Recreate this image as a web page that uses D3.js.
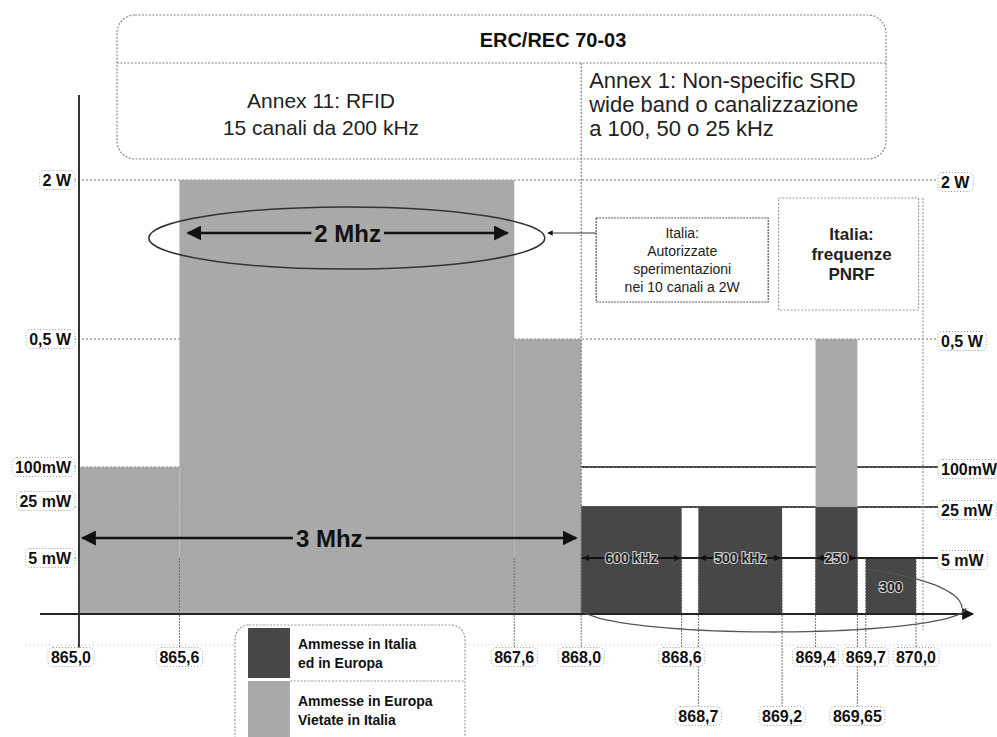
<!DOCTYPE html>
<html><head><meta charset="utf-8">
<script src="https://cdn.jsdelivr.net/npm/d3@7/dist/d3.min.js"></script>
<style>
html,body{margin:0;padding:0;background:#fff;}
svg{display:block;font-family:"Liberation Sans",Arial,sans-serif;}
</style></head>
<body>
<svg id="chart" width="997" height="737"></svg>
<script>
// ---------- DATA ----------
const europeFrom  = [865.0, 865.6, 867.6, 869.4];
const europeTo    = [865.6, 867.6, 868.0, 869.65];
const europePower = [100, 2000, 500, 500];          // mW
const italyFrom   = [868.0, 868.7, 869.4, 869.7];
const italyTo     = [868.6, 869.2, 869.65, 870.0];
const italyPower  = [25, 25, 25, 5];                // mW
const italyLabels = ["600 kHz", "500 kHz", "250", "300"];
const powerTicks  = [2000, 500, 100, 25, 5];
const powerLabels = ["2 W", "0,5 W", "100mW", "25 mW", "5 mW"];
const freqTicks   = [865.0, 865.6, 867.6, 868.0, 868.6, 868.7, 869.2, 869.4, 869.65, 869.7, 870.0];
const freqLabels  = ["865,0", "865,6", "867,6", "868,0", "868,6", "868,7", "869,2", "869,4", "869,65", "869,7", "870,0"];
const freqRow     = [0, 0, 0, 0, 0, 1, 1, 0, 1, 0, 0];
const legendLabels = [["Ammesse in Italia", "ed in Europa"], ["Ammesse in Europa", "Vietate in Italia"]];
const titleText   = "ERC/REC 70-03";
const annex11     = ["Annex 11: RFID", "15 canali da 200 kHz"];
const annex1      = ["Annex 1: Non-specific SRD", "wide band o canalizzazione", "a 100, 50 o 25 kHz"];
const boxItalia   = ["Italia:", "Autorizzate", "sperimentazioni", "nei 10 canali a 2W"];
const boxPNRF     = ["Italia:", "frequenze", "PNRF"];

// ---------- STYLE ----------
const LIGHT = "#a9a9a9", DARK = "#474747";
const svg = d3.select("#chart");
const x = d3.scaleLinear().domain([865.0, 870.0]).range([79, 916]);
const y = d3.scaleLinear().domain([0, 5, 25, 100, 500, 2000]).range([614, 558, 507, 467, 339, 180]);
const base = y(0);

const defs = svg.append("defs");
defs.append("marker").attr("id","ah").attr("viewBox","0 0 10 10").attr("refX",9).attr("refY",5)
  .attr("markerWidth",4.5).attr("markerHeight",4.5).attr("orient","auto-start-reverse")
  .append("path").attr("d","M0,0 L10,5 L0,10 Z").attr("fill","#111");
defs.append("marker").attr("id","ahs").attr("viewBox","0 0 10 10").attr("refX",9).attr("refY",5)
  .attr("markerWidth",6).attr("markerHeight",6).attr("orient","auto-start-reverse")
  .append("path").attr("d","M0,0 L10,5 L0,10 Z").attr("fill","#111");

function labelBox(g, tx, ty, txt, anchor, size) {
  const t = g.append("text").attr("x", tx).attr("y", ty).attr("text-anchor", anchor)
    .attr("dominant-baseline","central").attr("font-weight","bold").attr("font-size", size)
    .attr("fill","#111").text(txt);
  const bb = t.node().getBBox();
  g.insert("rect", "text").attr("x", bb.x - 3).attr("y", bb.y - 1).attr("width", bb.width + 6)
    .attr("height", bb.height + 2).attr("rx", 5).attr("fill","#fff")
    .attr("stroke","#999").attr("stroke-dasharray","1,2").attr("stroke-width",1);
}

// ---------- TOP BOX ----------
const boxL = 117, boxR = 886, boxT = 15, boxB = 159, boxMid = 63;
svg.append("rect").attr("x", boxL).attr("y", boxT).attr("width", boxR - boxL).attr("height", boxB - boxT)
  .attr("rx", 18).attr("fill","#fff").attr("stroke","#888").attr("stroke-dasharray","2,1.5").attr("stroke-width",1.2);
svg.append("line").attr("x1", boxL).attr("x2", boxR).attr("y1", boxMid).attr("y2", boxMid)
  .attr("stroke","#888").attr("stroke-dasharray","2,1.5").attr("stroke-width",1.2);
svg.append("text").attr("x", 553).attr("y", 40).attr("text-anchor","middle").attr("dominant-baseline","central")
  .attr("font-weight","bold").attr("font-size",20).attr("fill","#111").text(titleText);
annex11.forEach((s,i)=> svg.append("text").attr("x", 321).attr("y", 100 + i*27).attr("text-anchor","middle")
  .attr("dominant-baseline","central").attr("font-size",21).attr("fill","#222").text(s));
annex1.forEach((s,i)=> svg.append("text").attr("x", x(868.0) + 8).attr("y", 80 + i*24)
  .attr("dominant-baseline","central").attr("font-size",22).attr("fill","#222").text(s));

// ---------- GRID LINES ----------
const gridRight = 938;
powerTicks.forEach((p) => {
  svg.append("line").attr("x1", 74).attr("x2", gridRight).attr("y1", y(p)).attr("y2", y(p))
    .attr("stroke","#777").attr("stroke-width",1).attr("stroke-dasharray","2,2");
  if (p <= 100) {
    svg.append("line").attr("x1", x(868.0)).attr("x2", gridRight).attr("y1", y(p)).attr("y2", y(p))
      .attr("stroke","#222").attr("stroke-width",1.3);
  }
});

// ---------- BARS ----------
svg.append("g").selectAll("rect").data(europeFrom).join("rect")
  .attr("x", (d,i)=> x(d)).attr("width", (d,i)=> x(europeTo[i]) - x(d))
  .attr("y", (d,i)=> y(europePower[i])).attr("height", (d,i)=> base - y(europePower[i]))
  .attr("fill", LIGHT);
svg.append("g").selectAll("rect").data(italyFrom).join("rect")
  .attr("x", (d,i)=> x(d)).attr("width", (d,i)=> x(italyTo[i]) - x(d))
  .attr("y", (d,i)=> y(italyPower[i])).attr("height", (d,i)=> base - y(italyPower[i]))
  .attr("fill", DARK);

// 5 mW line between bars (over bars gaps)
svg.append("line").attr("x1", x(868.0)).attr("x2", gridRight).attr("y1", y(5)).attr("y2", y(5))
  .attr("stroke","#111").attr("stroke-width",1.3);

// bar labels with arrows
italyLabels.forEach((lab, i) => {
  const x0 = x(italyFrom[i]), x1 = x(italyTo[i]), cx = (x0 + x1)/2;
  const ly = i < 3 ? y(5) : y(5) + 29;
  const t = svg.append("text").attr("x", cx).attr("y", ly).attr("text-anchor","middle")
    .attr("dominant-baseline","central").attr("font-size", 14).attr("font-weight","bold")
    .attr("fill","#222").attr("stroke","#cfcfcf").attr("stroke-width",2.2).attr("paint-order","stroke")
    .text(lab);
  if (i < 3) {
    const w = t.node().getComputedTextLength();
    svg.append("line").attr("x1", cx - w/2 - 2).attr("x2", x0 + 2).attr("y1", ly).attr("y2", ly)
      .attr("stroke","#111").attr("stroke-width",1.5).attr("marker-end","url(#ah)");
    svg.append("line").attr("x1", cx + w/2 + 2).attr("x2", x1 - 2).attr("y1", ly).attr("y2", ly)
      .attr("stroke","#111").attr("stroke-width",1.5).attr("marker-end","url(#ah)");
  }
});

// ---------- VERTICAL DIVIDERS ----------
svg.append("line").attr("x1", x(868.0)).attr("x2", x(868.0)).attr("y1", boxMid).attr("y2", base)
  .attr("stroke","#666").attr("stroke-width",1).attr("stroke-dasharray","2,1.5");
svg.append("line").attr("x1", x(870.0) + 7).attr("x2", x(870.0) + 7).attr("y1", 198).attr("y2", 630)
  .attr("stroke","#888").attr("stroke-width",1).attr("stroke-dasharray","2,1.5");

// ---------- AXES ----------
svg.append("line").attr("x1", x(865.0)).attr("x2", x(865.0)).attr("y1", 95).attr("y2", 662)
  .attr("stroke","#333").attr("stroke-width",2);
svg.append("line").attr("x1", 40).attr("x2", 973).attr("y1", base).attr("y2", base)
  .attr("stroke","#222").attr("stroke-width",2).attr("marker-end","url(#ahs)");
svg.append("line").attr("x1", 25).attr("x2", 990).attr("y1", 645).attr("y2", 645)
  .attr("stroke","#bbb").attr("stroke-width",1).attr("stroke-dasharray","1,3");

// power labels left and right
const gL = svg.append("g"), gR = svg.append("g");
powerTicks.forEach((p,i) => {
  const off = p === 25 ? -6 : 0;
  labelBox(gL, 71, y(p) + off, powerLabels[i], "end", 16);
  labelBox(gR, 941, y(p) + (p === 25 ? 3 : 2), powerLabels[i], "start", 16);
});

// frequency ticks
const gT = svg.append("g");
freqTicks.forEach((f,i) => {
  const ly = freqRow[i] ? 716 : 657;
  gT.append("line").attr("x1", x(f)).attr("x2", x(f)).attr("y1", y(5)).attr("y2", ly - 10)
    .attr("stroke","#555").attr("stroke-width",1).attr("stroke-dasharray", "2,1")
    .attr("opacity", 0.8);
});
freqTicks.forEach((f,i) => {
  const ly = freqRow[i] ? 716 : 657;
  labelBox(gT, i === 0 ? x(f) - 8 : x(f), ly, freqLabels[i], "middle", 16);
});

// ---------- 2 MHz / 3 MHz ANNOTATIONS ----------
function spanArrow(f0, f1, yy, label, size) {
  const xa = x(f0), xb = x(f1), cx = (xa + xb)/2;
  const t = svg.append("text").attr("x", cx).attr("y", yy).attr("text-anchor","middle")
    .attr("dominant-baseline","central").attr("font-weight","bold").attr("font-size", size)
    .attr("fill","#111").text(label);
  const w = t.node().getComputedTextLength();
  svg.append("line").attr("x1", cx - w/2 - 3).attr("x2", xa).attr("y1", yy).attr("y2", yy)
    .attr("stroke","#111").attr("stroke-width",2.5).attr("marker-end","url(#ahs)");
  svg.append("line").attr("x1", cx + w/2 + 3).attr("x2", xb).attr("y1", yy).attr("y2", yy)
    .attr("stroke","#111").attr("stroke-width",2.5).attr("marker-end","url(#ahs)");
}
spanArrow(865.6 + 0.05, 867.6 - 0.04, y(1500), "2 Mhz", 24);
spanArrow(865.0 + 0.02, 868.0 - 0.03, y(5) - 20, "3 Mhz", 24);

// ellipse around 2 Mhz
svg.append("ellipse").attr("cx", x(866.6)).attr("cy", y(1500) + 5).attr("rx", 198).attr("ry", 31)
  .attr("fill","none").attr("stroke","#333").attr("stroke-width",1.5);

// ellipse (lower part) around Italian bands
const ex = (x(868.0) + x(870.0) + 50)/2, erx = (x(870.0) + 50 - x(868.0))/2;
const ep = d3.path();
ep.ellipse ? null : null;
const elPath = [];
for (let a = 200; a >= -10; a -= 3) {
  const r = a * Math.PI/180;
  elPath.push([ex + erx*Math.cos(-r + Math.PI), base - 5 + 26*Math.sin(r) * (a>0?1:1)]);
}
svg.append("path").attr("d", d3.line().curve(d3.curveBasis)(
    d3.range(0, 181, 4).map(a => { const r = a*Math.PI/180; return [ex - erx*Math.cos(r), base - 6 + 24*Math.sin(r)]; })
  ))
  .attr("fill","none").attr("stroke","#555").attr("stroke-width",1.3);
svg.append("path").attr("d", d3.line().curve(d3.curveBasis)(
    d3.range(0, 61, 4).map(a => { const r = a*Math.PI/180; return [ex + erx*Math.cos(r) - 4, base - 6 - 45*Math.sin(r)]; })
  ))
  .attr("fill","none").attr("stroke","#555").attr("stroke-width",1.3);

// ---------- ITALIA BOXES ----------
const b1x = x(868.0) + 15, b1w = 172, b1y = 218, b1h = 84;
svg.append("rect").attr("x", b1x).attr("y", b1y).attr("width", b1w).attr("height", b1h)
  .attr("fill","#fff").attr("stroke","#555").attr("stroke-dasharray","2,1").attr("stroke-width",1.2);
boxItalia.forEach((s,i)=> svg.append("text").attr("x", b1x + b1w/2).attr("y", b1y + 15 + i*18)
  .attr("text-anchor","middle").attr("dominant-baseline","central").attr("font-size",14).attr("fill","#222").text(s));
svg.append("line").attr("x1", b1x).attr("x2", x(866.6) + 201).attr("y1", y(1500)).attr("y2", y(1500))
  .attr("stroke","#333").attr("stroke-width",1.2).attr("marker-end","url(#ah)");

const b2x = x(869.4) - 37, b2w = 140, b2y = 198, b2h = 112;
svg.append("rect").attr("x", b2x).attr("y", b2y).attr("width", b2w).attr("height", b2h)
  .attr("fill","#fff").attr("stroke","#999").attr("stroke-dasharray","2,1.5").attr("stroke-width",1.2);
boxPNRF.forEach((s,i)=> svg.append("text").attr("x", b2x + b2w/2 + 3).attr("y", b2y + 36 + i*20)
  .attr("text-anchor","middle").attr("dominant-baseline","central").attr("font-size",17)
  .attr("font-weight","bold").attr("fill","#222").text(s));

// ---------- LEGEND ----------
const lg = svg.append("g");
lg.append("rect").attr("x", 235).attr("y", 625).attr("width", 230).attr("height", 130).attr("rx", 14)
  .attr("fill","#fff").attr("stroke","#999").attr("stroke-dasharray","2,1.5").attr("stroke-width",1.2);
lg.append("rect").attr("x", 248).attr("y", 628).attr("width", 42).attr("height", 50).attr("fill", DARK);
lg.append("rect").attr("x", 248).attr("y", 681).attr("width", 42).attr("height", 60).attr("fill", LIGHT);
lg.append("line").attr("x1", 290).attr("x2", 465).attr("y1", 681).attr("y2", 681)
  .attr("stroke","#999").attr("stroke-dasharray","2,1.5");
legendLabels.forEach((pair, k) => pair.forEach((s, j) =>
  lg.append("text").attr("x", 298).attr("y", 644 + k*57 + j*19).attr("dominant-baseline","central")
    .attr("font-size",14).attr("font-weight","bold").attr("fill","#111").text(s)));
</script>
</body></html>
